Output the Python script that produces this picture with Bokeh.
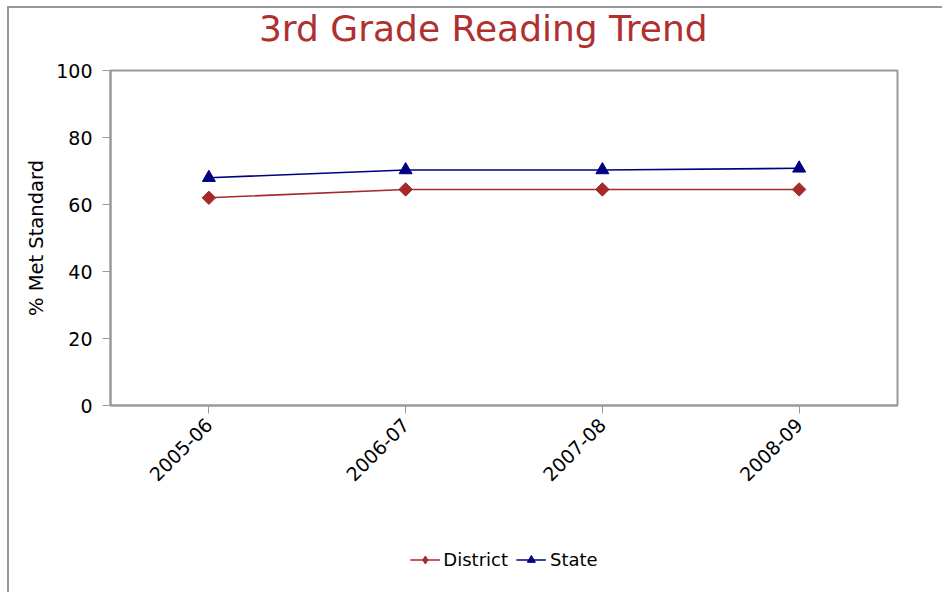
import math
from bokeh.plotting import figure
from bokeh.layouts import column
from bokeh.models import ColumnDataSource, Legend, LegendItem, Label, FactorRange
from bokeh.embed import file_html
from bokeh.resources import INLINE

years = ["2005-06", "2006-07", "2007-08", "2008-09"]
district = [62, 64.5, 64.5, 64.5]
state = [68, 70.3, 70.3, 70.8]
y_ticks = [0, 20, 40, 60, 80, 100]
series_names = ["District", "State"]
title_text = "3rd Grade Reading Trend"

FONT = "DejaVu Sans"
DIST_C = "#A52A2A"
STATE_C = "#000080"
W = 933
TH = 48

src = ColumnDataSource(dict(x=years, d=district, s=state))

# title strip
tf = figure(width=W, height=TH, x_range=(0, W), y_range=(0, TH),
            output_backend="svg", toolbar_location=None,
            x_axis_location=None, y_axis_location=None,
            min_border_left=0, min_border_right=0, min_border_top=0, min_border_bottom=0)
tf.outline_line_color = None
tf.xgrid.grid_line_color = None
tf.ygrid.grid_line_color = None
tf.add_layout(Label(x=176, y=TH - 20, text=title_text, text_font=FONT, text_font_size="36px",
                    text_color="#B03030", text_align="left", text_baseline="middle"))

# main chart
p = figure(width=W, height=452, x_range=years, y_range=(0, 100),
           output_backend="svg", toolbar_location=None,
           min_border_left=101, min_border_right=W - 888, min_border_top=14, min_border_bottom=103)
p.x_range.range_padding = 0
p.xgrid.grid_line_color = None
p.ygrid.grid_line_color = None
p.outline_line_color = "#999999"
p.outline_line_width = 2
p.background_fill_color = "white"

for ax in (p.xaxis[0], p.yaxis[0]):
    ax.axis_line_color = "#999999"
    ax.axis_line_width = 2
    ax.major_tick_line_color = "#999999"
    ax.major_tick_line_width = 1
    ax.major_tick_out = 8
    ax.major_tick_in = 0
    ax.minor_tick_line_color = None
    ax.major_label_text_font = FONT
    ax.major_label_text_font_size = "19px"
    ax.major_label_text_color = "black"

p.yaxis.ticker = y_ticks
p.yaxis.axis_label = "% Met Standard"
p.yaxis.axis_label_text_font = FONT
p.yaxis.axis_label_text_font_size = "19.5px"
p.yaxis.axis_label_text_font_style = "normal"
p.yaxis.axis_label_text_color = "black"
p.yaxis.axis_label_standoff = 5
p.yaxis.major_label_standoff = 10

p.xaxis.major_label_orientation = math.pi / 4
p.xaxis.major_label_standoff = 8

LW = 1.6
DM = dict(marker="square", angle=math.pi / 4, size=9.5, fill_color=DIST_C, line_color=DIST_C)
SM = dict(marker="triangle", size=13, fill_color=STATE_C, line_color=STATE_C)
p.line("x", "d", source=src, line_color=DIST_C, line_width=LW)
p.scatter("x", "d", source=src, **DM)
p.line("x", "s", source=src, line_color=STATE_C, line_width=LW)
p.scatter("x", "s", source=src, **SM)

# legend strip below the chart (renderers use the same data, kept outside the view)
lg = figure(width=W, height=84, x_range=FactorRange(*years), y_range=(1000, 1001),
            output_backend="svg", toolbar_location=None,
            x_axis_location=None, y_axis_location=None,
            min_border_left=0, min_border_right=0, min_border_top=18, min_border_bottom=0)
lg.outline_line_color = None
lg.xgrid.grid_line_color = None
lg.ygrid.grid_line_color = None
r1 = lg.line("x", "d", source=src, line_color=DIST_C, line_width=LW)
r2 = lg.scatter("x", "d", source=src, marker="diamond", size=13, fill_color=DIST_C, line_color=DIST_C)
r3 = lg.line("x", "s", source=src, line_color=STATE_C, line_width=LW)
r4 = lg.scatter("x", "s", source=src, **SM)
legend = Legend(items=[LegendItem(label=series_names[0], renderers=[r1, r2]),
                       LegendItem(label=series_names[1], renderers=[r3, r4])],
                orientation="horizontal", location="center",
                label_text_font=FONT, label_text_font_size="18px", label_text_color="black",
                glyph_width=30, spacing=8, label_standoff=4, padding=4,
                border_line_color=None, background_fill_alpha=0, margin=0)
lg.add_layout(legend, "center")

layout = column(tf, p, lg, spacing=0, margin=(6, 0, 0, 7),
                styles={"border-left": "2px solid #999999", "border-top": "2px solid #999999"})

open("out.html", "w").write(file_html(layout, INLINE))
